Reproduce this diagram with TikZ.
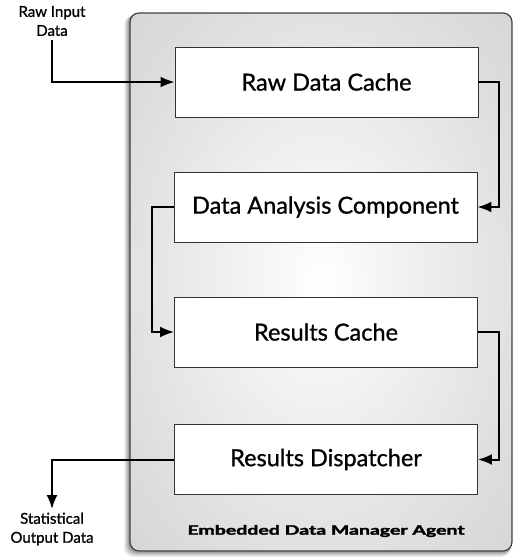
\documentclass[tikz,border=0pt]{standalone}
\usepackage{fontspec}
\setmainfont{Lato}
\newfontfamily\stagefont{Lato}[FakeBold=0.9]
\newfontfamily\agentfont{Lato Bold}[FakeBold=2]
\usetikzlibrary{arrows.meta,calc}
% soft light centre fading out towards the container edges
\pgfdeclareradialshading{agentglow}{\pgfpoint{0bp}{0bp}}{%
  color(0bp)=(white);
  color(8bp)=(white!96!black);
  color(30bp)=(white!86!black);
  color(50bp)=(white!79!black);
  color(72bp)=(white!72!black)}
\begin{document}
\begin{tikzpicture}[x=1pt,y=-1pt,
  stage/.style={draw=black!80,line width=0.9pt,fill=white,minimum width=303pt,minimum height=70pt,inner sep=0pt,font=\stagefont\fontsize{23.5}{27}\selectfont},
  extlabel/.style={align=center,font=\stagefont\fontsize{15}{19}\selectfont,inner sep=0pt},
  flow/.style={line width=2pt,-{Latex[length=14pt,width=11pt]}}]
\useasboundingbox (0,0) rectangle (521,560);

% soft shadow of the agent container
\foreach \d/\o in {6/0.06,5/0.07,4/0.08,3/0.10,2/0.12}{
  \fill[black,opacity=\o,rounded corners=9pt] (130-\d,13+0.5*\d) rectangle (512-0.3*\d,551+\d);
}
% agent container with radial gradient
\path[rounded corners=9pt,shading=agentglow,draw=black!75,line width=1.2pt]
  (130,13) rectangle (512,551);

% pipeline stages
\node[stage] (rdc) at (326.5,82)  {Raw Data Cache};
\node[stage] (dac) at (325.5,207) {Data Analysis Component};
\node[stage] (rc)  at (326,332)   {Results Cache};
\node[stage] (rd)  at (326,459.5) {Results Dispatcher};

\node[font=\agentfont\fontsize{13}{15}\selectfont,inner sep=0pt] (agent) at (326,531)
  {\scalebox{1.5}[1]{Embedded Data Manager Agent}};

% external data labels
\node[extlabel] (rawin) at (52,21) {Raw Input\\Data};
\node[extlabel] (statout) at (52,529) {Statistical\\Output Data};
\coordinate (inpt) at (52,40);
\coordinate (outpt) at (52,509);

% data flow
\draw[flow] (inpt) |- (rdc.west);
\draw[flow] (rdc.east) -- ++(21,0) |- (dac.east);
\draw[flow] (dac.west) -- ++(-22,0) |- (rc.west);
\draw[flow] (rc.east) -- ++(21,0) |- (rd.east);
\draw[flow] (rd.west) -| (outpt);
\end{tikzpicture}
\end{document}
